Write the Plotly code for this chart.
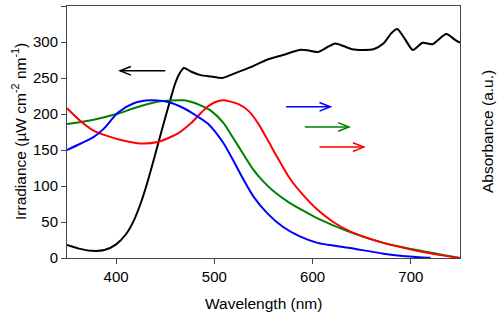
import plotly.graph_objects as go

# Irradiance (black)
irr_x = [350, 362, 375, 388, 400, 410, 418, 425, 432, 440, 448, 455, 460, 464, 469, 476, 486, 497, 508, 520, 537, 553, 570, 587, 597, 605, 614, 623, 632, 640, 652, 662, 672, 680, 686, 694, 702, 712, 722, 736, 745, 750]
irr_y = [18, 13, 10, 11, 19, 33, 52, 76, 106, 145, 185, 219, 242, 255, 264, 259, 254, 252, 250, 256, 265, 275, 282, 289, 288, 286, 292, 298, 294, 290, 289, 290, 298, 312, 318, 304, 289, 299, 297, 311, 303, 299]

# Absorbance (blue)
blue_x = [350, 364, 377, 387, 402, 418, 435, 452, 469, 480, 493, 509, 519, 530, 540, 554, 570, 587, 605, 638, 672, 699, 716, 720]
blue_y = [150, 159, 168, 179, 202, 215, 219, 217, 208, 199, 187, 160, 136, 108, 85, 62, 43, 30, 21, 14, 6, 2, 0.5, 0.5]

# Absorbance (green)
green_x = [350, 377, 403, 418, 442, 469, 476, 486, 496, 509, 519, 530, 540, 550, 560, 575, 590, 605, 638, 672, 706, 730, 750]
green_y = [186, 192, 201, 208, 217, 219, 217, 212, 205, 188, 167, 143, 122, 106, 93, 78, 66, 55, 36, 21, 11, 5, 0]

# Absorbance (red)
red_x = [350, 364, 377, 390, 405, 425, 442, 463, 476, 486, 493, 500, 509, 524, 535, 545, 555, 564, 577, 590, 605, 621, 638, 672, 706, 730, 750]
red_y = [208, 190, 177, 170, 164, 159, 161, 173, 187, 201, 210, 216, 219, 214, 204, 186, 162, 140, 110, 88, 67, 50, 37, 21, 10, 4, 0]

# Direction arrows: (x_tail, x_head, y, color)
arrows = [
    (450, 404, 260, "black"),
    (573, 618, 210, "#0000ff"),
    (592, 637, 182, "#008000"),
    (607, 652, 154, "#ff0000"),
]

fig = go.Figure()
for xs, ys, c in [(irr_x, irr_y, "black"), (green_x, green_y, "#008000"),
                  (red_x, red_y, "#ff0000"), (blue_x, blue_y, "#0000ff")]:
    fig.add_trace(go.Scatter(x=xs, y=ys, mode="lines",
                             line=dict(color=c, width=2, shape="spline", smoothing=0.7),
                             showlegend=False, hoverinfo="skip"))

shapes = []
for xt, xh, y, c in arrows:
    d = 1 if xh > xt else -1
    shapes.append(dict(type="line", x0=xt, x1=xh, y0=y, y1=y, xref="x", yref="y",
                       line=dict(color=c, width=1.5)))
    shapes.append(dict(type="path",
                       path=f"M {xh - d*11},{y + 6} L {xh},{y} L {xh - d*11},{y - 6}",
                       xref="x", yref="y", line=dict(color=c, width=1.5)))

FAM = "Liberation Sans, Arial, sans-serif"
font = dict(family=FAM, size=15, color="black")
tfont = dict(family=FAM, size=15.5, color="black")

W, H = 498, 315
L, R, T, B = 67, 38, 6, 57

annotations = [
    dict(text="Wavelength (nm)", x=(263 - L) / (W - L - R), y=-(303 - (H - B)) / (H - T - B),
         xref="paper", yref="paper", showarrow=False, xanchor="center", yanchor="middle",
         font=tfont),
    dict(text="Irradiance (µW cm<sup>-2</sup> nm<sup>-1</sup>)", x=-(L - 19) / (W - L - R),
         y=0.5, xref="paper", yref="paper", showarrow=False, textangle=-90,
         xanchor="center", yanchor="middle", font=tfont),
    dict(text="Absorbance (a.u.)", x=1 + (487 - (W - R)) / (W - L - R),
         y=0.5, xref="paper", yref="paper", showarrow=False, textangle=-90,
         xanchor="center", yanchor="middle", font=tfont),
]

fig.update_layout(
    width=W, height=H,
    margin=dict(l=L, r=R, t=T, b=B, autoexpand=False),
    paper_bgcolor="white", plot_bgcolor="white",
    font=font,
    shapes=shapes,
    annotations=annotations,
    xaxis=dict(range=[350, 750], dtick=100, ticks="outside", ticklen=5,
               showline=True, linecolor="#444", linewidth=1, mirror=True,
               showgrid=False, zeroline=False, automargin=False),
    yaxis=dict(range=[0, 350], dtick=50, ticks="outside", ticklen=5,
               showline=True, linecolor="#444", linewidth=1, mirror=True,
               showgrid=False, zeroline=False, automargin=False),
)

fig.write_html("out.html", config={"displayModeBar": False})

# remove the default browser body margin so the figure sits at the page origin
with open("out.html", "r", encoding="utf-8") as f:
    html = f.read()
html = html.replace("<head>", "<head><style>html,body{margin:0;padding:0;overflow:hidden;}</style>", 1)
with open("out.html", "w", encoding="utf-8") as f:
    f.write(html)
